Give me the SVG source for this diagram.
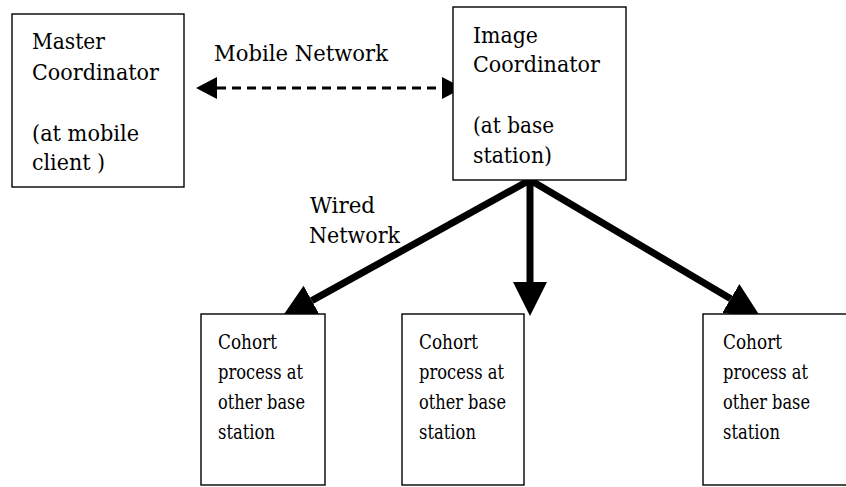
<svg xmlns="http://www.w3.org/2000/svg" width="846" height="487" viewBox="0 0 846 487">
  <style>
    .box { fill: #ffffff; stroke: #000000; stroke-width: 1.4; }
    text { font-family: "DejaVu Serif", "Liberation Serif", serif; fill: #000000; }
    .lbl { font-size: 23px; }
    .small { font-size: 20.5px; }
    .wired { stroke: #000000; stroke-width: 7; fill: none; }
    .mobile { stroke: #000000; stroke-width: 3; stroke-dasharray: 9 6; fill: none; }
  </style>
  <defs>
    <!-- solid triangular heads for the wired links -->
    <marker id="bigHead" markerUnits="userSpaceOnUse" markerWidth="34" markerHeight="34" refX="0" refY="17" orient="auto" viewBox="0 0 34 34">
      <path d="M0,0 L34,17 L0,34 z" fill="#000000"/>
    </marker>
    <!-- smaller heads for the two-way mobile link -->
    <marker id="smallHead" markerUnits="userSpaceOnUse" markerWidth="21" markerHeight="22" refX="0" refY="11" orient="auto-start-reverse" viewBox="0 0 21 22">
      <path d="M0,0 L21,11 L0,22 z" fill="#000000"/>
    </marker>
  </defs>

  <rect width="846" height="487" fill="#ffffff"/>

  <g id="connectors">
    <path class="mobile" d="M217,88 L442,88" marker-start="url(#smallHead)" marker-end="url(#smallHead)"/>
    <path class="wired" d="M530,180 L311.8,300.6" marker-end="url(#bigHead)"/>
    <path class="wired" d="M530,180 L530,282" marker-end="url(#bigHead)"/>
    <path class="wired" d="M530,180 L730.7,298.7" marker-end="url(#bigHead)"/>
    <text class="lbl" x="214" y="61" textLength="174" lengthAdjust="spacingAndGlyphs">Mobile Network</text>
    <text class="lbl" x="310" y="213" textLength="65" lengthAdjust="spacingAndGlyphs">Wired</text>
    <text class="lbl" x="309" y="243" textLength="91" lengthAdjust="spacingAndGlyphs">Network</text>
  </g>

  <g id="master-coordinator">
    <rect class="box" x="12" y="14" width="172" height="173"/>
    <text class="lbl" x="32" y="49" textLength="73" lengthAdjust="spacingAndGlyphs">Master</text>
    <text class="lbl" x="32" y="80" textLength="127" lengthAdjust="spacingAndGlyphs">Coordinator</text>
    <text class="lbl" x="32" y="141" textLength="107" lengthAdjust="spacingAndGlyphs">(at mobile</text>
    <text class="lbl" x="32" y="170" textLength="73" lengthAdjust="spacingAndGlyphs">client )</text>
  </g>

  <g id="image-coordinator">
    <rect class="box" x="453" y="7" width="173" height="173"/>
    <text class="lbl" x="473" y="43" textLength="65" lengthAdjust="spacingAndGlyphs">Image</text>
    <text class="lbl" x="473" y="72" textLength="127" lengthAdjust="spacingAndGlyphs">Coordinator</text>
    <text class="lbl" x="473" y="133" textLength="81" lengthAdjust="spacingAndGlyphs">(at base</text>
    <text class="lbl" x="473" y="163" textLength="79" lengthAdjust="spacingAndGlyphs">station)</text>
  </g>

  <g id="cohort-1">
    <rect class="box" x="201" y="314" width="124" height="171"/>
    <text class="small" x="218" y="349" textLength="59" lengthAdjust="spacingAndGlyphs">Cohort</text>
    <text class="small" x="218" y="379" textLength="85" lengthAdjust="spacingAndGlyphs">process at</text>
    <text class="small" x="218" y="409" textLength="87" lengthAdjust="spacingAndGlyphs">other base</text>
    <text class="small" x="218" y="439" textLength="57" lengthAdjust="spacingAndGlyphs">station</text>
  </g>

  <g id="cohort-2">
    <rect class="box" x="402" y="314" width="122" height="171"/>
    <text class="small" x="419" y="349" textLength="59" lengthAdjust="spacingAndGlyphs">Cohort</text>
    <text class="small" x="419" y="379" textLength="85" lengthAdjust="spacingAndGlyphs">process at</text>
    <text class="small" x="419" y="409" textLength="87" lengthAdjust="spacingAndGlyphs">other base</text>
    <text class="small" x="419" y="439" textLength="57" lengthAdjust="spacingAndGlyphs">station</text>
  </g>

  <g id="cohort-3">
    <rect class="box" x="703" y="314" width="146" height="171"/>
    <text class="small" x="723" y="349" textLength="59" lengthAdjust="spacingAndGlyphs">Cohort</text>
    <text class="small" x="723" y="379" textLength="85" lengthAdjust="spacingAndGlyphs">process at</text>
    <text class="small" x="723" y="409" textLength="87" lengthAdjust="spacingAndGlyphs">other base</text>
    <text class="small" x="723" y="439" textLength="57" lengthAdjust="spacingAndGlyphs">station</text>
  </g>
</svg>
